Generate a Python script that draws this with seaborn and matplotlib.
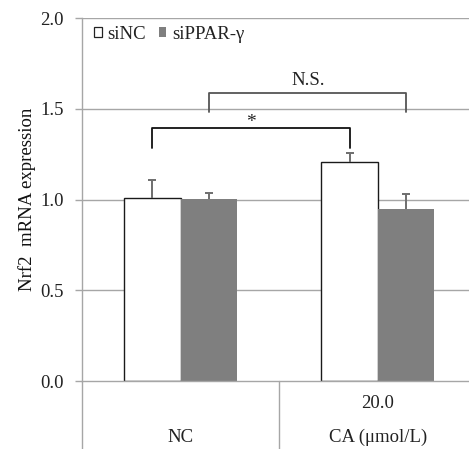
import matplotlib
matplotlib.use("Agg")
import matplotlib.pyplot as plt
import matplotlib.transforms as mtransforms
from matplotlib.patches import Patch
import seaborn as sns
import pandas as pd

# Data
treatments = ["NC", "CA"]
groups = ["siNC", "siPPAR-γ"]
si_nc = [1.007, 1.208]
si_ppar = [1.001, 0.946]
err_si_nc = [0.100, 0.050]
err_si_ppar = [0.033, 0.085]
dose_labels = ["", "20.0"]
group_labels = ["NC", "CA (μmol/L)"]
y_ticks = [0.0, 0.5, 1.0, 1.5, 2.0]

sns.set_theme(style="white")
plt.rcParams["font.family"] = ["Liberation Serif", "DejaVu Serif"]

df = pd.DataFrame({
    "treatment": treatments * 2,
    "group": [groups[0]] * 2 + [groups[1]] * 2,
    "value": si_nc + si_ppar,
})
errs = {groups[0]: err_si_nc, groups[1]: err_si_ppar}

W, H = 469, 449
fig = plt.figure(figsize=(W / 100, H / 100), dpi=100)
ax = fig.add_axes([82 / W, 68 / H, (W - 82) / W, 363 / H])

grid_c = "#a6a6a6"
txt_c = "#222222"
fs = 13.5
for v in y_ticks[1:]:
    ax.axhline(v, color=grid_c, lw=1.0, zorder=0)

sns.barplot(data=df, x="treatment", y="value", hue="group", order=treatments,
            hue_order=groups, palette=["white", "#7f7f7f"], width=0.574,
            errorbar=None, ax=ax, legend=False, zorder=2)

# style bars and add upward-only error bars
cap_half = 0.02
for cont, g in zip(ax.containers, groups):
    for bar, e in zip(cont, errs[g]):
        if g == groups[0]:
            bar.set_edgecolor("#1a1a1a")
            bar.set_linewidth(1.0)
        else:
            bar.set_edgecolor("none")
        cx = bar.get_x() + bar.get_width() / 2
        h = bar.get_height()
        ax.vlines(cx, h, h + e, color="#6e6e6e", lw=1.4, zorder=3)
        ax.hlines(h + e, cx - cap_half, cx + cap_half, color="#6e6e6e", lw=1.4, zorder=3)

ax.set_xlim(-0.5, 1.462)
ax.set_ylim(0, 2.0)
ax.set_yticks(y_ticks)
ax.set_yticklabels([f"{v:.1f}" for v in y_ticks], fontsize=fs, color=txt_c)
ax.tick_params(axis="y", length=5, width=1, color=grid_c, pad=8, left=True)
ax.tick_params(axis="x", bottom=False, labelbottom=False)
ax.set_xlabel("")
ax.set_ylabel("Nrf2  mRNA expression", fontsize=fs, color="#111111", labelpad=3)

for s in ["top", "right"]:
    ax.spines[s].set_visible(False)
ax.spines["left"].set_color(grid_c)
ax.spines["bottom"].set_color(grid_c)
ax.spines["left"].set_linewidth(1.0)
ax.spines["bottom"].set_linewidth(1.0)

# category area below the axis
trans = mtransforms.blended_transform_factory(ax.transData, ax.transAxes)
ybot = -68 / 363
for xv in [-0.5, 0.5]:
    ax.plot([xv, xv], [0, ybot], transform=trans, color=grid_c, lw=1.0, clip_on=False)
for i, (d, g) in enumerate(zip(dose_labels, group_labels)):
    if d:
        ax.text(i, -22 / 363, d, transform=trans, ha="center", va="center",
                fontsize=fs, color=txt_c)
    ax.text(i, -56 / 363, g, transform=trans, ha="center", va="center",
            fontsize=fs, color=txt_c)

# significance brackets
bars_nc = list(ax.containers[0])
bars_pp = list(ax.containers[1])
def center(b):
    return b.get_x() + b.get_width() / 2

x1, x2 = center(bars_nc[0]), center(bars_nc[1])
ax.plot([x1, x1, x2, x2], [1.284, 1.392, 1.392, 1.284], color="#111111", lw=1.3, zorder=4)
ax.text((x1 + x2) / 2, 1.425, "*", ha="center", va="center", fontsize=14, color=txt_c)

x3, x4 = center(bars_pp[0]), center(bars_pp[1])
ax.plot([x3, x3, x4, x4], [1.48, 1.588, 1.588, 1.48], color="#555555", lw=1.3, zorder=4)
ax.text((x3 + x4) / 2 + 0.005, 1.655, "N.S.", ha="center", va="center", fontsize=fs, color=txt_c)

handles = [Patch(facecolor="white", edgecolor="#222222", lw=0.9),
           Patch(facecolor="#7f7f7f", edgecolor="none")]
ax.legend(handles, groups, loc="upper left", bbox_to_anchor=(0.002, 1.01), ncol=2,
          frameon=False, fontsize=fs, handlelength=0.4, handleheight=0.4,
          handletextpad=0.3, columnspacing=0.7, borderaxespad=0.2,
          labelcolor=txt_c)

fig.savefig("out.png", dpi=100)
